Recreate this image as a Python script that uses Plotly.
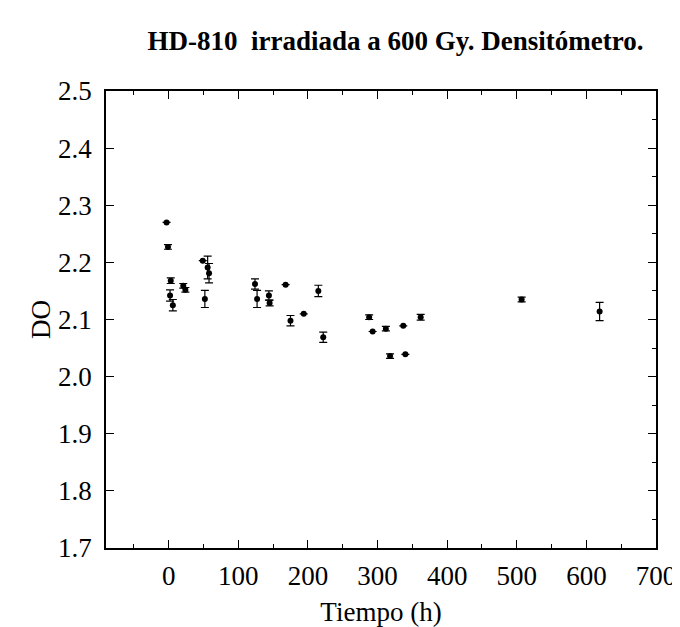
import plotly.graph_objects as go

# Data
tiempo = [-3, -1, 3, 2, 6, 21, 24, 49, 56, 58, 52, 124, 127, 144, 145, 168, 175, 194,
          215, 222, 288, 293, 312, 318, 337, 340, 362, 507, 619]
do_vals = [2.270, 2.227, 2.168, 2.142, 2.125, 2.159, 2.152, 2.203, 2.191, 2.181, 2.136,
           2.162, 2.136, 2.142, 2.129, 2.161, 2.098, 2.110, 2.150, 2.069, 2.104, 2.079,
           2.084, 2.036, 2.089, 2.039, 2.104, 2.135, 2.114]
do_err = [0.0, 0.004, 0.005, 0.010, 0.010, 0.004, 0.004, 0.0, 0.020, 0.017, 0.015,
          0.009, 0.015, 0.008, 0.005, 0.0, 0.009, 0.0, 0.010, 0.009, 0.004, 0.0,
          0.004, 0.004, 0.0, 0.0, 0.005, 0.004, 0.016]

x_ticks = [0, 100, 200, 300, 400, 500, 600, 700]
y_ticks = [1.7, 1.8, 1.9, 2.0, 2.1, 2.2, 2.3, 2.4, 2.5]

FONT = "Liberation Serif"

fig = go.Figure()
fig.add_trace(go.Scatter(
    x=tiempo, y=do_vals, mode="markers",
    marker=dict(color="black", size=6),
    error_y=dict(type="data", array=do_err, visible=True, color="black",
                 thickness=1.2, width=4),
    showlegend=False,
))
# dummy trace for right-hand axis (minor ticks)
fig.add_trace(go.Scatter(x=[None], y=[None], yaxis="y2", showlegend=False))

fig.update_layout(
    width=680, height=627,
    paper_bgcolor="white", plot_bgcolor="white",
    margin=dict(l=98, r=30, t=83, b=87),
    title=dict(text="<b>HD-810  irradiada a 600 Gy. Densitómetro.</b>",
               x=0.57, xanchor="center", y=1 - 33 / 627, yanchor="middle",
               font=dict(family=FONT, size=27, color="black")),
    font=dict(family=FONT, color="black", size=27),
    xaxis=dict(range=[-90, 700], tickvals=x_ticks, ticks="inside", ticklen=8,
               tickwidth=1.3, tickcolor="black", showline=True, linecolor="black",
               linewidth=1.5, mirror="ticks", showgrid=False, zeroline=False,
               ticklabelstandoff=3,
               minor=dict(dtick=50, tick0=0, ticks="inside", ticklen=4,
                          tickcolor="black", tickwidth=1.2, showgrid=False),
               title=dict(text="Tiempo (h)", font=dict(family=FONT, size=27), standoff=12),
               tickfont=dict(family=FONT, size=27)),
    yaxis=dict(range=[1.7, 2.5], tickvals=y_ticks, tickformat=".1f", ticks="inside",
               ticklen=8, tickwidth=1.3, tickcolor="black", showline=True,
               linecolor="black", linewidth=1.5, showgrid=False, zeroline=False,
               ticklabelstandoff=7,
               title=dict(text="DO", font=dict(family=FONT, size=27), standoff=0),
               tickfont=dict(family=FONT, size=27)),
    yaxis2=dict(range=[1.7, 2.5], overlaying="y", side="right", tickvals=y_ticks,
                showticklabels=False, ticks="inside", ticklen=8, tickwidth=1.3,
                tickcolor="black", showline=True, linecolor="black", linewidth=1.5,
                showgrid=False, zeroline=False,
                minor=dict(dtick=0.05, tick0=1.7, ticks="inside", ticklen=4,
                           tickcolor="black", tickwidth=1.2, showgrid=False)),
)

fig.write_html("out.html")
